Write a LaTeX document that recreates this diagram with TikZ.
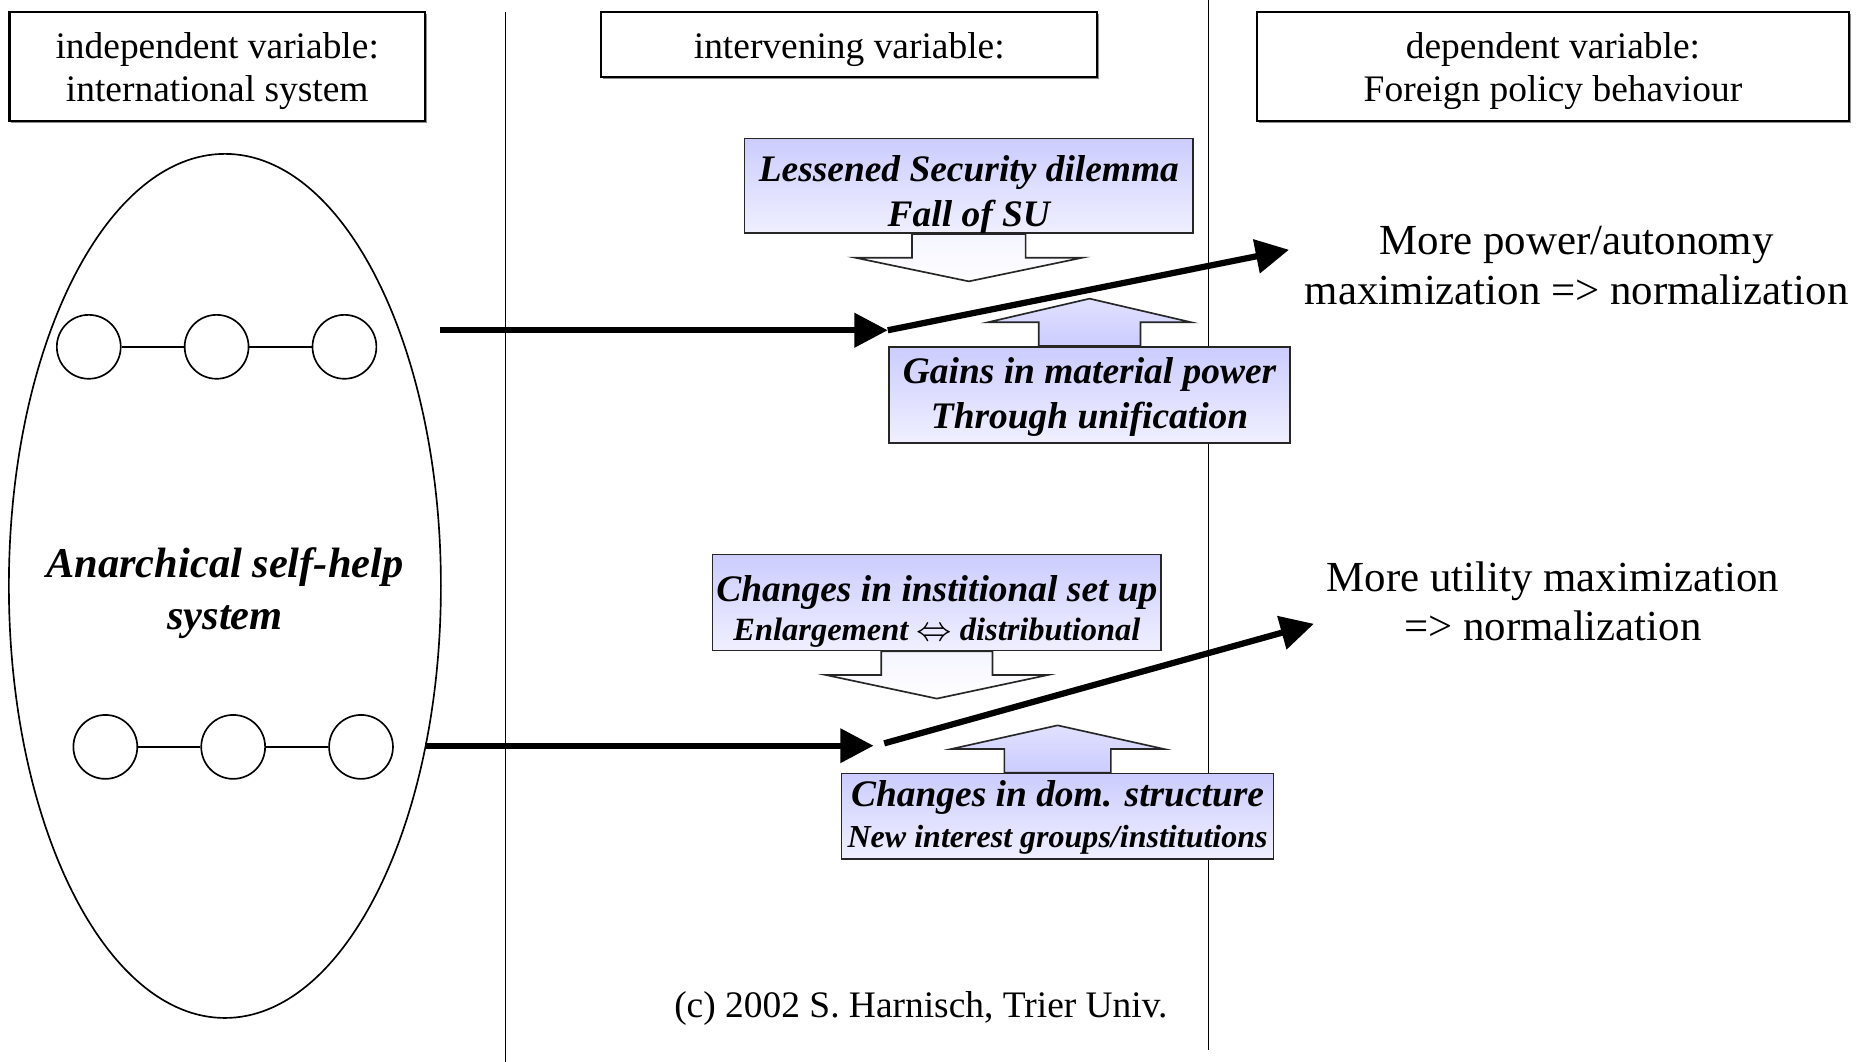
\documentclass[tikz,border=0pt]{standalone}
\usepackage{fontspec}
\setmainfont{Liberation Serif}
\usetikzlibrary{arrows.meta,shapes.geometric,shadows}

\begin{document}
\begin{tikzpicture}[x=0.1mm,y=-0.1mm,
  headbox/.style={draw,line width=0.5pt,fill=white,inner sep=0pt,
    drop shadow={shadow xshift=0.15mm,shadow yshift=-0.15mm,fill=black!45,opacity=1}},
  headtext/.style={align=center,font=\fontsize{9}{10.5}\selectfont},
  factorbox/.style={draw=black!85,inner sep=0pt,top color=blue!20,bottom color=blue!6},
  factortext/.style={align=center,font=\fontsize{9}{10.8}\selectfont\bfseries\itshape},
  downfill/.style={draw=black!85,top color=blue!4,bottom color=white},
  upfill/.style={draw=black!85,top color=blue!12,bottom color=blue!20},
  statenode/.style={draw,circle,minimum size=5.4mm,inner sep=0pt},
  outtext/.style={align=center,font=\fontsize{10.3}{12}\selectfont},
  mainarrow/.style={line width=1.5pt,-{Triangle[length=8pt,width=8pt]}}]
  \useasboundingbox (0,0) rectangle (1568,897);

  % column headers
  \node[headbox,minimum width=35.1mm,minimum height=9.2mm] (indep) at (183.5,56) {};
  \node[headbox,minimum width=41.9mm,minimum height=5.5mm] (interv) at (717.5,37.5) {};
  \node[headbox,minimum width=50mm,minimum height=9.2mm] (dep) at (1312,56) {};
  \node[headtext] (indepLbl) at (183.5,60) {independent variable:\\international system};
  \node[headtext] (intervLbl) at (717.5,41.5) {intervening variable:};
  \node[headtext] (depLbl) at (1312,60) {dependent variable:\\Foreign policy behaviour};
  \draw (427,10) -- (427,897);
  \draw (1021,0) -- (1021,887);

  % international system
  \node[draw,ellipse,minimum width=36.5mm,minimum height=73mm,inner sep=0pt] (system) at (190,495) {};
  \node[align=center,font=\fontsize{10.2}{12.5}\selectfont\bfseries\itshape] (sysName) at (190,501)
    {Anarchical self-help\\system};
  \foreach \i/\x in {1/75,2/183,3/291}
    \node[statenode] (u\i) at (\x,293) {};
  \foreach \i/\x in {1/89,2/197,3/305}
    \node[statenode] (l\i) at (\x,631) {};
  \draw (u1) -- (u2) -- (u3);
  \draw (l1) -- (l2) -- (l3);

  % intervening factors
  \node[factorbox,minimum width=37.9mm,minimum height=8mm] (secDil) at (818.5,157) {};
  \node[factorbox,minimum width=33.9mm,minimum height=8.1mm] (gainPow) at (920.5,333.5) {};
  \node[factorbox,minimum width=37.9mm,minimum height=8.1mm] (instChg) at (791.5,509) {};
  \node[factorbox,minimum width=36.5mm,minimum height=7.2mm] (domChg) at (893.5,689.5) {};
  \node[factortext] (secDilLbl) at (818.5,165) {Lessened Security dilemma\\Fall of SU};
  \node[factortext] (gainPowLbl) at (920.5,335.5) {Gains in material power\\Through unification};
  \node[factortext] (instChgLbl) at (791.5,516.5)
    {Changes in institional set up\\[-1.4pt]{\fontsize{7.8}{9}\selectfont Enlargement $\Leftrightarrow$ distributional}};
  \node[factortext] (domChgLbl) at (893.5,690.5)
    {Changes in dom. structure\\[-1.1pt]{\fontsize{7.7}{9}\selectfont New interest groups/institutions}};
  \foreach \b/\a/\s/\w/\st in {secDil/south/1/48/downfill,instChg/south/1/47/downfill,
                               gainPow/north/-1/43/upfill,domChg/north/-1/45/upfill}
    \draw[\st] (\b.\a) ++(-\w,0) -- ++(0,20*\s) -- ++(-\w,0) -- ++(2*\w,20*\s)
      -- ++(2*\w,-20*\s) -- ++(-\w,0) -- ++(0,-20*\s) -- cycle;

  % foreign policy outcomes
  \node[outtext] (powMax) at (1332,224) {More power/autonomy\\maximization => normalization};
  \node[outtext] (utilMax) at (1312,508) {More utility maximization\\=> normalization};

  \coordinate (topStart) at (372,279);
  \coordinate (topJoin) at (750,279);
  \coordinate (topEnd) at (1089,211);
  \coordinate (botStart) at (359,630);
  \coordinate (botJoin) at (738,630);
  \coordinate (botTurn) at (747,628);
  \coordinate (botEnd) at (1110,527);
  \draw[mainarrow] (topStart) -- (topJoin);
  \draw[mainarrow] (topJoin) -- (topEnd);
  \draw[mainarrow] (botStart) -- (botJoin);
  \draw[mainarrow] (botTurn) -- (botEnd);

  \node[font=\fontsize{9}{11}\selectfont] (credit) at (778,852) {(c) 2002 S. Harnisch, Trier Univ.};
\end{tikzpicture}
\end{document}
